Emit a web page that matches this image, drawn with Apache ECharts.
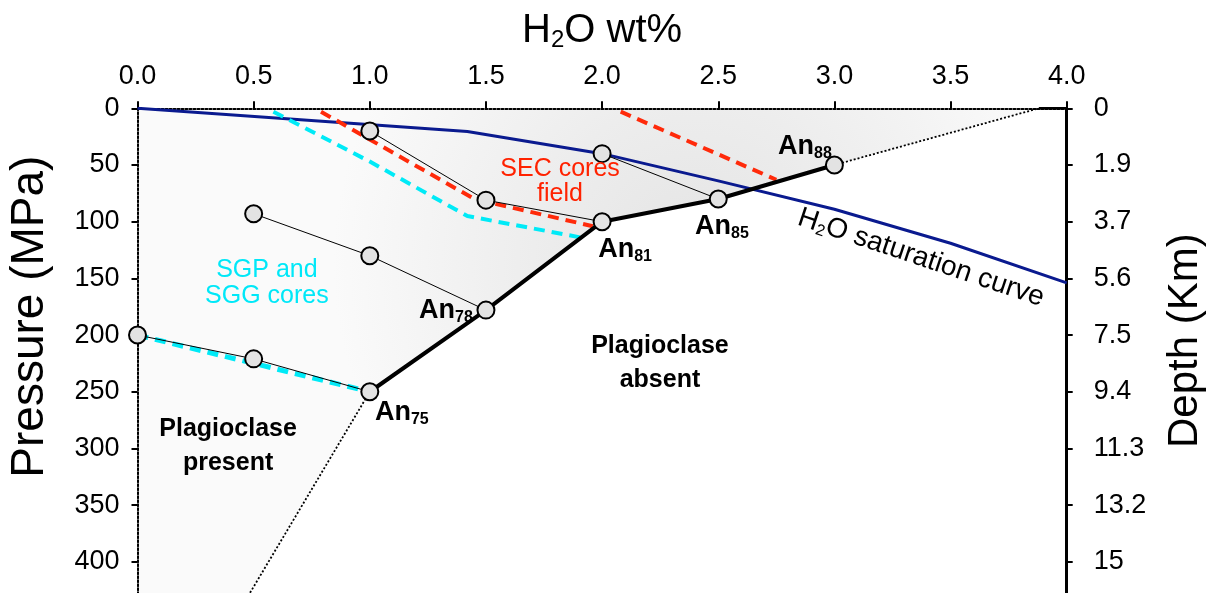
<!DOCTYPE html>
<html>
<head>
<meta charset="utf-8">
<script src="https://cdn.jsdelivr.net/npm/echarts@6/dist/echarts.min.js"></script>
<style>
html,body{margin:0;padding:0;background:#fff;}
#chart{width:1210px;height:593px;}
</style>
</head>
<body>
<div id="chart"></div>
<script>
// ---- Data ----
const xTickLabels = ['0.0','0.5','1.0','1.5','2.0','2.5','3.0','3.5','4.0'];
const pressureTicks = [0,50,100,150,200,250,300,350,400];
const depthLabels = ['0','1.9','3.7','5.6','7.5','9.4','11.3','13.2','15'];

// plagioclase-out boundary (An75 .. An88)
const anLine = [[1.0,250],[1.5,178],[2.0,100],[2.5,80],[3.0,50]];
// thin tie lines between experiments
const tie1 = [[1.0,20],[1.5,81],[2.0,100]];
const tie2 = [[2.0,40],[2.5,80]];
const tie3 = [[0.5,93],[1.0,130],[1.5,178]];
const tie4 = [[0.0,200],[0.5,221],[1.0,250]];
// experiment points
const samples = [[1.0,20],[1.5,81],[2.0,100],[2.0,40],[2.5,80],[3.0,50],[0.5,93],[1.0,130],[1.5,178],[0.0,200],[0.5,221],[1.0,250]];
// H2O saturation curve
const saturation = [[0,0],[1.42,20.5],[2.0,40],[2.5,64],[3.0,89],[3.5,119],[4.0,154]];
// SEC cores field (red dashed)
const secLeft = [[0.79,3],[1.45,80],[1.96,104]];
const secRight = [[2.08,3],[2.75,63]];
// SGP and SGG cores (cyan dashed)
const sgpUpper = [[0.585,3],[1.0,47],[1.42,95],[1.91,114]];
const sgpLower = [[0.0,200],[1.0,250]];
// dotted extrapolations
const dottedUpper = [[3.0,50],[3.88,0]];
const dottedLower = [[1.0,250],[0.484,427.5]];
const topSolid = [[3.88,0],[4.0,0]];
const yMax = 427.5;

// annotation texts with data-space anchors
const anLabels = [
  {name:'88', at:[2.873,34]},
  {name:'85', at:[2.516,104]},
  {name:'81', at:[2.099,125]},
  {name:'78', at:[1.328,178]},
  {name:'75', at:[1.138,268]}
];
const textNotes = [
  {text:'SEC cores\nfield', at:[1.819,65], style:'red'},
  {text:'SGP and\nSGG cores', at:[0.557,154], style:'cyan'},
  {text:'Plagioclase\npresent', at:[0.39,298], style:'bold'},
  {text:'Plagioclase\nabsent', at:[2.249,224.5], style:'bold'}
];
const satLabelAt = [3.373,132];

// ---- Chart ----
const FONT = '"Liberation Sans", Arial, sans-serif';
const chart = echarts.init(document.getElementById('chart'), null, {renderer:'canvas'});

// shaded "plagioclase present" polygon built from the boundaries
const region = [[0,0]].concat(dottedUpper.slice().reverse())
  .concat(anLine.slice().reverse().slice(1))
  .concat([dottedLower[1], [0, yMax]]);

function lineSeries(data, color, width, type, z){
  return {type:'line', data:data, showSymbol:false, symbol:'none', silent:true,
    lineStyle:{color:color, width:width, type:type, opacity:1}, z:z, animation:false};
}

const noteStyles = {
  red:{color:'#ff2200', fontSize:25, lineHeight:25, fontFamily:FONT},
  cyan:{color:'#00e8f8', fontSize:25, lineHeight:26, fontFamily:FONT},
  bold:{color:'#000', fontSize:25, fontWeight:'bold', lineHeight:34, fontFamily:FONT}
};

const option = {
  backgroundColor:'#fff',
  animation:false,
  grid:{left:137.5, right:143.3, top:108.3, bottom:0, containLabel:false, outerBoundsMode:'none'},
  xAxis:{
    type:'value', position:'top', min:0, max:4, interval:0.5, z:2,
    name:'{a|H}{s|2}{a|O wt%}', nameLocation:'middle', nameGap:55,
    nameTextStyle:{rich:{
      a:{fontSize:40, fontFamily:FONT, color:'#000', lineHeight:44},
      s:{fontSize:24, fontFamily:FONT, color:'#000', lineHeight:44, padding:[18,0,0,0]}
    }},
    axisLine:{show:true, lineStyle:{color:'#000', width:2, type:[2,2]}},
    axisTick:{show:true, inside:false, length:7, lineStyle:{color:'#000', width:2}},
    axisLabel:{margin:18, fontSize:27, color:'#000', fontFamily:FONT,
      formatter:(v)=>xTickLabels[Math.round(v/0.5)]},
    splitLine:{show:false}
  },
  yAxis:[{
    type:'value', inverse:true, min:0, max:yMax, position:'left', z:2,
    name:'Pressure (MPa)', nameLocation:'middle', nameGap:84,
    nameTextStyle:{fontSize:46, fontFamily:FONT, color:'#000', padding:[0,0,0,68]},
    axisLine:{show:true, lineStyle:{color:'#000', width:2, type:[2,2]}},
    axisTick:{show:true, length:6, lineStyle:{color:'#000', width:2}, customValues:pressureTicks},
    axisLabel:{margin:18, fontSize:27, color:'#000', fontFamily:FONT, customValues:pressureTicks},
    splitLine:{show:false}
  },{
    type:'value', inverse:true, min:0, max:yMax, position:'right', z:2,
    name:'Depth (Km)', nameLocation:'middle', nameGap:98,
    nameTextStyle:{fontSize:42, fontFamily:FONT, color:'#000', padding:[0,0,0,20]},
    axisLine:{show:true, lineStyle:{color:'#000', width:3}},
    axisTick:{show:true, length:6, lineStyle:{color:'#000', width:2}, customValues:pressureTicks},
    axisLabel:{margin:27, fontSize:27, color:'#000', fontFamily:FONT, customValues:pressureTicks,
      formatter:(v)=>depthLabels[pressureTicks.indexOf(v)] || ''},
    splitLine:{show:false}
  }],
  series:[
    {
      type:'custom', silent:true, z:1, clip:false,
      data:[[0,0]],
      renderItem:function(params, api){
        const pts = region.map(p=>api.coord(p));
        return {type:'polygon', shape:{points:pts},
          style:{fill:new echarts.graphic.RadialGradient(0.62,0.32,0.75,[
            {offset:0, color:'#e4e4e4'},{offset:0.45, color:'#ededed'},{offset:1, color:'#fafafa'}])}};
      }
    },
    lineSeries(saturation, '#0a1a8f', 3, 'solid', 3),
    lineSeries(secLeft, '#ff2a0a', 4, [11,7], 4),
    lineSeries(secRight, '#ff2a0a', 4, [11,7], 4),
    lineSeries(sgpUpper, '#00eaf7', 4, [11,7], 4),
    lineSeries(sgpLower, '#00eaf7', 5, [11,7], 4),
    lineSeries(tie1, '#000', 1, 'solid', 5),
    lineSeries(tie2, '#000', 1, 'solid', 5),
    lineSeries(tie3, '#000', 1, 'solid', 5),
    lineSeries(tie4, '#000', 1, 'solid', 5),
    lineSeries(anLine, '#000', 4, 'solid', 6),
    lineSeries(dottedUpper, '#000', 1.8, [2,2], 5),
    lineSeries(dottedLower, '#000', 1.8, [2,2], 5),
    lineSeries(topSolid, '#000', 2.5, 'solid', 6),
    {
      type:'scatter', data:samples, symbol:'circle', symbolSize:17, z:8, silent:true,
      itemStyle:{color:'#e3e3e3', borderColor:'#000', borderWidth:2, opacity:1}
    },
    {
      type:'scatter', z:9, silent:true, symbolSize:0, itemStyle:{opacity:1},
      data:anLabels.map(d=>({value:d.at, sub:d.name})),
      label:{show:true, position:'inside', color:'#000', textBorderWidth:0,
        formatter:(p)=>'{a|An}{s|'+p.data.sub+'}',
        rich:{
          a:{fontSize:27, fontWeight:'bold', fontFamily:FONT, color:'#000', lineHeight:32},
          s:{fontSize:16, fontWeight:'bold', fontFamily:FONT, color:'#000', lineHeight:32, padding:[14,0,0,0]}
        }}
    },
    {
      type:'scatter', z:9, silent:true, symbolSize:0, itemStyle:{opacity:1},
      data:textNotes.map(d=>({value:d.at, txt:d.text,
        label:Object.assign({show:true, position:'inside', align:'center', verticalAlign:'middle', textBorderWidth:0}, noteStyles[d.style])})),
      label:{show:true, formatter:(p)=>p.data.txt}
    },
    {
      type:'scatter', z:9, silent:true, symbolSize:0, itemStyle:{opacity:1},
      data:[{value:satLabelAt}],
      label:{show:true, position:'inside', rotate:-18.5, color:'#000', textBorderWidth:0,
        formatter:'{a|H}{s|2}{a|O saturation curve}',
        rich:{
          a:{fontSize:28, fontFamily:FONT, color:'#000', lineHeight:32},
          s:{fontSize:16, fontFamily:FONT, color:'#000', lineHeight:32, padding:[13,0,0,0]}
        }}
    }
  ]
};
chart.setOption(option);
</script>
</body>
</html>
